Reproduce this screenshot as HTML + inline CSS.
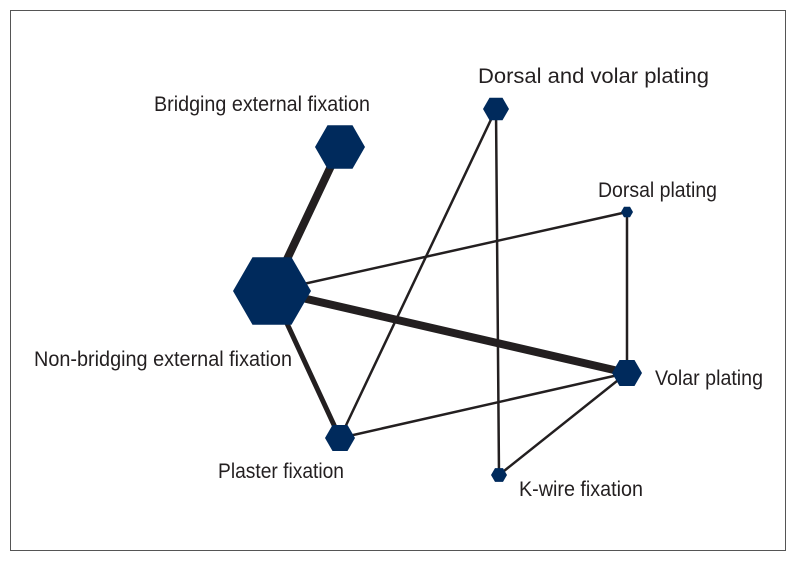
<!DOCTYPE html>
<html><head><meta charset="utf-8"><style>
html,body{margin:0;padding:0;background:#fff;}
svg{display:block;}
text{font-family:"Liberation Sans Narrow","Liberation Sans",sans-serif;font-size:21px;fill:#231f20;}
</style></head><body>
<svg width="797" height="562" viewBox="0 0 797 562" xmlns="http://www.w3.org/2000/svg">
<rect x="10.5" y="10.5" width="775" height="540" fill="#fff" stroke="#555" stroke-width="1"/>
<g stroke="#231f20" stroke-linecap="round">
<line x1="272" y1="291" x2="340" y2="147" stroke-width="8"/>
<line x1="272" y1="291" x2="627" y2="373" stroke-width="8"/>
<line x1="272" y1="291" x2="340" y2="438" stroke-width="5"/>
<line x1="272" y1="291" x2="627" y2="212" stroke-width="2.5"/>
<line x1="496" y1="109" x2="340" y2="438" stroke-width="2.5"/>
<line x1="496" y1="109" x2="499" y2="475" stroke-width="2.5"/>
<line x1="627" y1="212" x2="627" y2="373" stroke-width="2.5"/>
<line x1="340" y1="438" x2="627" y2="373" stroke-width="2.5"/>
<line x1="627" y1="373" x2="499" y2="475" stroke-width="2.5"/>
</g>
<g fill="#002a5c">
<polygon points="365,147 352.5,125.3 327.5,125.3 315,147 327.5,168.7 352.5,168.7"/>
<polygon points="311,291 291.5,257.2 252.5,257.2 233,291 252.5,324.8 291.5,324.8"/>
<polygon points="355,438 347.5,425 332.5,425 325,438 332.5,451 347.5,451"/>
<polygon points="509,109 502.5,97.7 489.5,97.7 483,109 489.5,120.3 502.5,120.3"/>
<polygon points="633,212 630,206.8 624,206.8 621,212 624,217.2 630,217.2"/>
<polygon points="642,373 634.5,360 619.5,360 612,373 619.5,386 634.5,386"/>
<polygon points="507,475 503,468.1 495,468.1 491,475 495,481.9 503,481.9"/>
</g>
<text x="154" y="111" textLength="216" lengthAdjust="spacingAndGlyphs">Bridging external fixation</text>
<text x="478" y="83" textLength="231" lengthAdjust="spacingAndGlyphs">Dorsal and volar plating</text>
<text x="598" y="197" textLength="119" lengthAdjust="spacingAndGlyphs">Dorsal plating</text>
<text x="34" y="366" textLength="258" lengthAdjust="spacingAndGlyphs">Non-bridging external fixation</text>
<text x="655" y="385" textLength="108" lengthAdjust="spacingAndGlyphs">Volar plating</text>
<text x="218" y="478" textLength="126" lengthAdjust="spacingAndGlyphs">Plaster fixation</text>
<text x="519" y="496" textLength="124" lengthAdjust="spacingAndGlyphs">K-wire fixation</text>
</svg>
</body></html>
